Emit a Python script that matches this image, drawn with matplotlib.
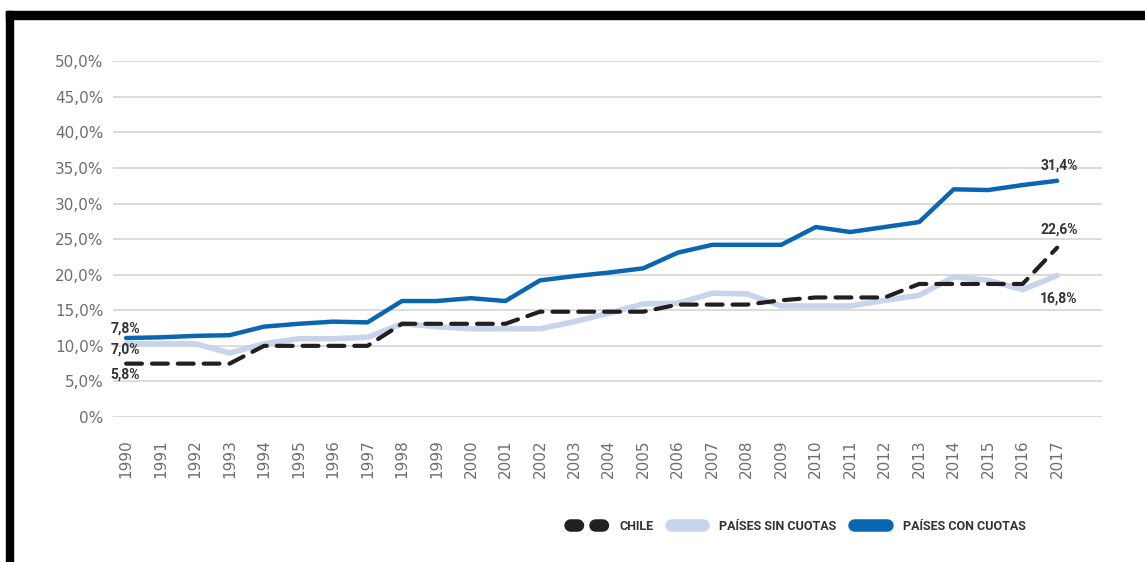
import matplotlib.pyplot as plt
from matplotlib.lines import Line2D
from matplotlib.patches import Rectangle

years = list(range(1990, 2018))
chile = [7.5, 7.5, 7.5, 7.5, 10.0, 10.0, 10.0, 10.0, 13.1, 13.1,
         13.1, 13.1, 14.8, 14.8, 14.8, 14.8, 15.8, 15.8, 15.8, 16.4,
         16.8, 16.8, 16.8, 18.7, 18.7, 18.7, 18.7, 23.8]
sin_cuotas = [10.3, 10.3, 10.3, 9.0, 10.3, 11.0, 11.0, 11.2, 13.1, 12.7,
              12.4, 12.4, 12.4, 13.4, 14.6, 15.9, 16.0, 17.4, 17.3, 15.6,
              15.6, 15.6, 16.4, 17.1, 19.7, 19.2, 17.9, 19.9]
con_cuotas = [11.1, 11.2, 11.4, 11.5, 12.7, 13.1, 13.4, 13.3, 16.3, 16.3,
              16.7, 16.3, 19.2, 19.8, 20.3, 20.9, 23.1, 24.2, 24.2, 24.2,
              26.7, 26.0, 26.7, 27.4, 32.0, 31.9, 32.6, 33.2]

yticks = [0, 5, 10, 15, 20, 25, 30, 35, 40, 45, 50]
ytick_labels = ['0%', '5,0%', '10,0%', '15,0%', '20,0%', '25,0%',
                '30,0%', '35,0%', '40,0%', '45,0%', '50,0%']

# labels at the start and end of the series (as printed in the original)
start_labels = [('7,8%', 12.4), ('7,0%', 9.5), ('5,8%', 6.0)]
end_labels = [('31,4%', 35.4), ('22,6%', 26.3), ('16,8%', 16.6)]

series_names = ['CHILE', 'PAÍSES SIN CUOTAS', 'PAÍSES CON CUOTAS']

c_chile = '#231f20'
c_sin = '#c7d4ec'
c_con = '#0b66b2'
c_grid = '#d9d9d9'
c_tick = '#6d6e71'
c_lbl = '#333333'
lblfont = ['Roboto', 'DejaVu Sans']

fig = plt.figure(figsize=(11.45, 5.62), dpi=100)
ax = fig.add_axes([0.0987, 0.258, 0.8637, 0.633])

ax.plot(years, sin_cuotas, color=c_sin, lw=4, solid_capstyle='round', zorder=2)
ax.plot(years, con_cuotas, color=c_con, lw=3.2, solid_capstyle='round', zorder=4)
ax.plot(years, chile, color=c_chile, lw=3, ls=(0, (3.8, 2.4)),
        dash_capstyle='round', zorder=3)

ax.set_ylim(0, 50)
ax.set_xlim(1989.62, 2018.3)
ax.set_yticks(yticks)
ax.set_yticklabels(ytick_labels)
ax.set_xticks(years)
ax.set_xticklabels([str(y) for y in years], rotation=90)
ax.tick_params(axis='both', length=0, labelsize=11, colors=c_tick)
ax.tick_params(axis='y', pad=7)
ax.tick_params(axis='x', pad=16)
ax.grid(axis='y', color=c_grid, lw=1.3)
ax.set_axisbelow(True)
for s in ax.spines.values():
    s.set_visible(False)

for txt, yv in start_labels:
    ax.text(1989.55, yv, txt, ha='left', va='center', fontsize=10,
            fontweight='bold', color=c_lbl, family=lblfont)
for txt, yv in end_labels:
    ax.text(2017.05, yv, txt, ha='center', va='center', fontsize=10,
            fontweight='bold', color=c_lbl, family=lblfont)

handles = [
    Line2D([], [], color=c_chile, lw=9, ls=(0, (0.6, 1.4)), dash_capstyle='round'),
    Line2D([], [], color=c_sin, lw=9, solid_capstyle='round'),
    Line2D([], [], color=c_con, lw=9, solid_capstyle='round'),
]
leg = fig.legend(handles, series_names, loc='center', bbox_to_anchor=(0.697, 0.064),
                 ncol=3, frameon=False, handlelength=2.6, handletextpad=1.3,
                 columnspacing=1.4, prop={'family': lblfont, 'weight': 'bold', 'size': 9})
for t in leg.get_texts():
    t.set_color(c_lbl)

# black frame on top and left
fig.patches.append(Rectangle((6 / 1145, 0), 7 / 1145, 1 - 11 / 562,
                             transform=fig.transFigure, color='black', zorder=10))
fig.patches.append(Rectangle((6 / 1145, 1 - 19 / 562), 1, 8 / 562,
                             transform=fig.transFigure, color='black', zorder=10))

plt.savefig('out.png', dpi=100)
